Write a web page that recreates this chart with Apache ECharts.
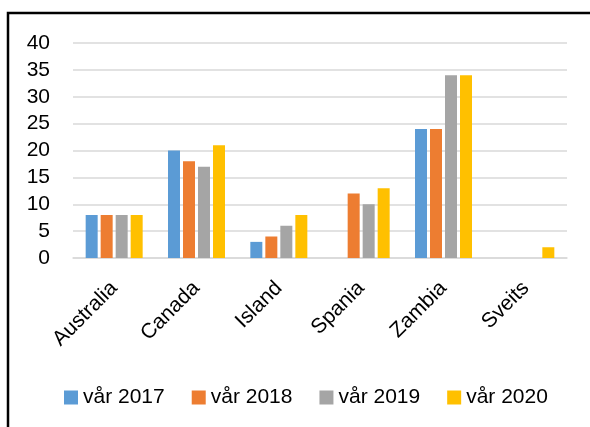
<!DOCTYPE html>
<html>
<head>
<meta charset="utf-8">
<script src="https://cdn.jsdelivr.net/npm/echarts@6/dist/echarts.min.js"></script>
<style>
  html, body { margin: 0; padding: 0; background: #fff; }
  #chart { width: 590px; height: 427px; }
</style>
</head>
<body>
<div id="chart"></div>
<script>
// data
var categories = ['Australia', 'Canada', 'Island', 'Spania', 'Zambia', 'Sveits'];
var seriesNames = ['vår 2017', 'vår 2018', 'vår 2019', 'vår 2020'];
var v2017 = [8, 20, 3, 0, 24, 0];
var v2018 = [8, 18, 4, 12, 24, 0];
var v2019 = [8, 17, 6, 10, 34, 0];
var v2020 = [8, 21, 8, 13, 34, 2];
var colors = ['#5B9BD5', '#ED7D31', '#A5A5A5', '#FFC000'];

var font = 'Liberation Sans, Arial, sans-serif';
var allValues = [v2017, v2018, v2019, v2020];

var myChart = echarts.init(document.getElementById('chart'));
var option = {
    animation: false,
    color: colors,
    graphic: [{
        type: 'rect',
        shape: { x: 8, y: 13, width: 620, height: 440 },
        style: { fill: 'none', stroke: '#000', lineWidth: 2.5 },
        silent: true
    }],
    grid: { left: 73, right: 23, top: 43, bottom: 169 },
    legend: {
        data: seriesNames,
        left: 59,
        top: 382,
        icon: 'rect',
        itemWidth: 14,
        itemHeight: 14,
        itemGap: 27,
        textStyle: { fontFamily: font, fontSize: 21, color: '#000' }
    },
    xAxis: {
        type: 'category',
        data: categories,
        axisLine: { lineStyle: { color: '#D9D9D9', width: 1.5 } },
        axisTick: { show: false },
        axisLabel: { rotate: 45, margin: 27, fontFamily: font, fontSize: 21, color: '#000' }
    },
    yAxis: {
        type: 'value',
        min: 0,
        max: 40,
        interval: 5,
        axisLine: { show: false },
        axisTick: { show: false },
        splitLine: { lineStyle: { color: '#D9D9D9', width: 1.5 } },
        axisLabel: { margin: 23, fontFamily: font, fontSize: 21, color: '#000' }
    },
    series: seriesNames.map(function (name, i) {
        return {
            name: name,
            type: 'bar',
            data: allValues[i],
            barWidth: 12,
            barGap: '25%'
        };
    })
};
myChart.setOption(option);
</script>
</body>
</html>
